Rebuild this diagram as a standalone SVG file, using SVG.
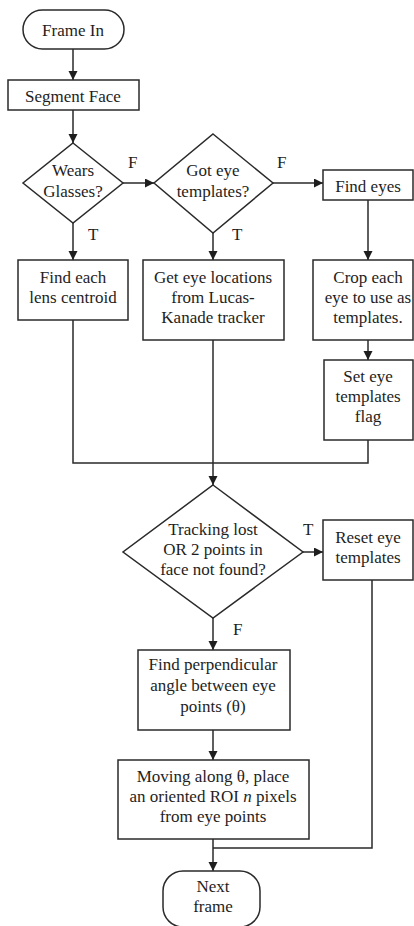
<svg xmlns="http://www.w3.org/2000/svg" width="414" height="926" viewBox="0 0 414 926">
<defs>
<marker id="ah" markerUnits="userSpaceOnUse" markerWidth="10" markerHeight="10" refX="9" refY="4.5" orient="auto">
<path d="M0,0 L9,4.5 L0,9 z" fill="#1e1e1e"/>
</marker>
<style>
.s{fill:#fff;stroke:#2a2a2a;stroke-width:1.5}
.c{fill:none;stroke:#2a2a2a;stroke-width:1.5}
text{font-family:"Liberation Serif","Times New Roman",serif;font-size:17px;fill:#1e1e1e;text-anchor:middle}
.l{text-anchor:start}
</style>
</defs>
<rect width="414" height="926" fill="#fff"/>
<g id="connectors">
<path class="c" d="M73,49 V80" marker-end="url(#ah)"/>
<path class="c" d="M73,110 V143" marker-end="url(#ah)"/>
<path class="c" d="M123,183 H154" marker-end="url(#ah)"/>
<path class="c" d="M273,183 H323" marker-end="url(#ah)"/>
<path class="c" d="M73,223 V260" marker-end="url(#ah)"/>
<path class="c" d="M213,233 V260" marker-end="url(#ah)"/>
<path class="c" d="M368,200 V260" marker-end="url(#ah)"/>
<path class="c" d="M368,340 V360" marker-end="url(#ah)"/>
<path class="c" d="M73,320 V463 H368 V440"/>
<path class="c" d="M213,340 V485" marker-end="url(#ah)"/>
<path class="c" d="M303,552 H323" marker-end="url(#ah)"/>
<path class="c" d="M213,618 V650" marker-end="url(#ah)"/>
<path class="c" d="M213,730 V760" marker-end="url(#ah)"/>
<path class="c" d="M213,839 V871" marker-end="url(#ah)"/>
<path class="c" d="M372,580 V848 H213"/>
<text class="l" x="128" y="168">F</text>
<text class="l" x="277" y="168">F</text>
<text class="l" x="88" y="240">T</text>
<text class="l" x="232" y="240">T</text>
<text class="l" x="303" y="535">T</text>
<text class="l" x="233" y="635">F</text>
</g>
<g id="frame-in">
<rect class="s" x="23" y="10" width="101" height="39" rx="19.5"/>
<text x="73" y="36">Frame In</text>
</g>
<g id="segment-face">
<rect class="s" x="8" y="80" width="131" height="30"/>
<text x="73" y="102">Segment Face</text>
</g>
<g id="wears-glasses">
<polygon class="s" points="73,143 123,183 73,223 23,183"/>
<text x="73" y="176">Wears</text>
<text x="73" y="197">Glasses?</text>
</g>
<g id="got-templates">
<polygon class="s" points="213,134 273,183 213,233 154,183"/>
<text x="213" y="176">Got eye</text>
<text x="213" y="197">templates?</text>
</g>
<g id="find-eyes">
<rect class="s" x="323" y="170" width="90" height="30"/>
<text x="368" y="192">Find eyes</text>
</g>
<g id="find-lens">
<rect class="s" x="18" y="260" width="110" height="60"/>
<text x="73" y="283">Find each</text>
<text x="73" y="303">lens centroid</text>
</g>
<g id="get-locations">
<rect class="s" x="143" y="260" width="141" height="80"/>
<text x="213" y="283">Get eye locations</text>
<text x="213" y="303">from Lucas-</text>
<text x="213" y="323">Kanade tracker</text>
</g>
<g id="crop-eyes">
<rect class="s" x="313" y="260" width="100" height="80"/>
<text x="368" y="283">Crop each</text>
<text x="368" y="303">eye to use as</text>
<text x="368" y="323">templates.</text>
</g>
<g id="set-flag">
<rect class="s" x="324" y="360" width="89" height="80"/>
<text x="368" y="382">Set eye</text>
<text x="368" y="402">templates</text>
<text x="368" y="422">flag</text>
</g>
<g id="tracking-lost">
<polygon class="s" points="213,485 303,552 213,618 123,552"/>
<text x="213" y="535">Tracking lost</text>
<text x="213" y="555">OR 2 points in</text>
<text x="213" y="575">face not found?</text>
</g>
<g id="reset-templates">
<rect class="s" x="323" y="520" width="90" height="60"/>
<text x="368" y="543">Reset eye</text>
<text x="368" y="563">templates</text>
</g>
<g id="find-angle">
<rect class="s" x="138" y="650" width="152" height="80"/>
<text x="213" y="670">Find perpendicular</text>
<text x="213" y="691">angle between eye</text>
<text x="213" y="712">points (θ)</text>
</g>
<g id="place-roi">
<rect class="s" x="118" y="760" width="191" height="79"/>
<text x="213" y="782">Moving along θ, place</text>
<text x="213" y="802">an oriented ROI <tspan font-style="italic">n</tspan> pixels</text>
<text x="213" y="822">from eye points</text>
</g>
<g id="next-frame">
<rect class="s" x="163" y="871" width="97" height="56" rx="20"/>
<text x="213" y="892">Next</text>
<text x="213" y="912">frame</text>
</g>
</svg>
